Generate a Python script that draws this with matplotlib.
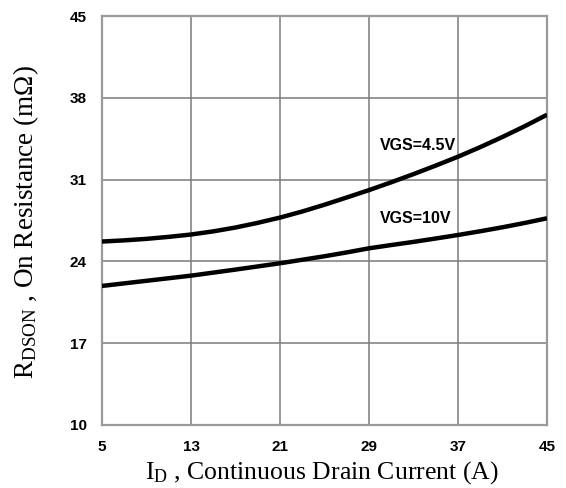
import matplotlib
matplotlib.use("Agg")
import matplotlib.pyplot as plt

# Data
current_a = [5, 7, 9, 11, 13, 15, 17, 19, 21, 23, 25, 27, 29, 31, 33, 35, 37, 39, 41, 43, 45]
rdson_vgs45 = [25.7, 25.8, 25.93, 26.1, 26.3, 26.57, 26.9, 27.3, 27.75, 28.27, 28.85,
               29.47, 30.1, 30.77, 31.47, 32.2, 32.96, 33.78, 34.65, 35.57, 36.55]
rdson_vgs10 = [21.9, 22.12, 22.34, 22.56, 22.78, 23.04, 23.3, 23.57, 23.84, 24.14, 24.44,
               24.77, 25.12, 25.4, 25.67, 25.96, 26.26, 26.58, 26.92, 27.29, 27.69]
x_ticks = [5, 13, 21, 29, 37, 45]
y_ticks = [10, 17, 24, 31, 38, 45]
label_45 = "VGS=4.5V"
label_10 = "VGS=10V"

plt.rcParams['mathtext.fontset'] = 'custom'
plt.rcParams['mathtext.rm'] = 'Liberation Serif'
plt.rcParams['mathtext.it'] = 'Liberation Serif'

fig = plt.figure(figsize=(5.66, 4.88), dpi=100)
ax = fig.add_axes([102/566, 1 - 425/488, (547-102)/566, (425-16)/488])

ax.plot(current_a, rdson_vgs45, color='black', lw=3.2, solid_capstyle='butt', zorder=3)
ax.plot(current_a, rdson_vgs10, color='black', lw=3.2, solid_capstyle='butt', zorder=3)

ax.set_xlim(5, 45)
ax.set_ylim(10, 45)
ax.set_xticks(x_ticks)
ax.set_yticks(y_ticks)
ax.grid(True, color='#7a7a7a', lw=1.1)
ax.tick_params(length=0, pad=11)
for lab in ax.get_xticklabels() + ax.get_yticklabels():
    lab.set_fontfamily('Liberation Sans')
    lab.set_fontweight('bold')
    lab.set_fontsize(11)
for s in ax.spines.values():
    s.set_color('#9a9a9a')
    s.set_linewidth(1.6)

ax.text(33.4, 33.9, label_45, fontfamily='Liberation Sans', fontweight='bold',
        fontsize=11.5, ha='center', va='center')
ax.text(33.2, 27.65, label_10, fontfamily='Liberation Sans', fontweight='bold',
        fontsize=11.5, ha='center', va='center')

fig.text(322/566, 1 - 473/488, r'$\mathregular{I_D}$ , Continuous Drain Current (A)',
         fontfamily='Liberation Serif', fontsize=18.5, ha='center', va='center')
fig.text(26/566, 1 - 222/488, r'$\mathregular{R_{DSON}}$ , On Resistance (m$\mathregular{\Omega}$)',
         fontfamily='Liberation Serif', fontsize=19.5, ha='center', va='center', rotation=90)

fig.savefig('out.png', dpi=100)
